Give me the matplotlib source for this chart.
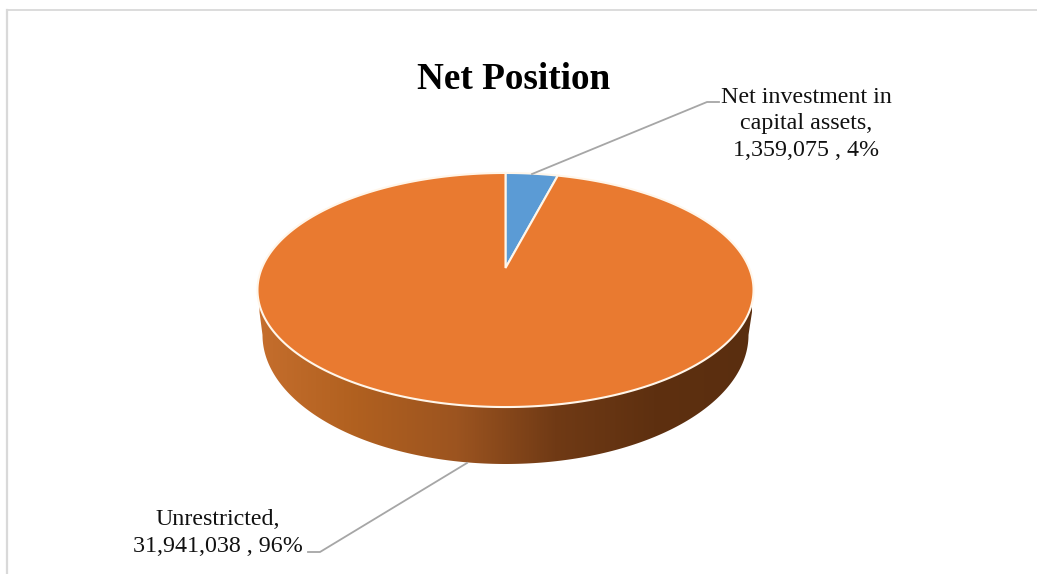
import numpy as np
import matplotlib
matplotlib.use("Agg")
import matplotlib.pyplot as plt
from matplotlib.colors import LinearSegmentedColormap
from matplotlib.patches import Polygon

title = "Net Position"
labels = ["Net investment in\ncapital assets,\n1,359,075 , 4%", "Unrestricted,\n31,941,038 , 96%"]
values = [1359075, 31941038]
colors = ["#5B9BD5", "#E97A30"]
side_colors = ["#C56E2D", "#B0601F", "#9C5420", "#703A15", "#5E3010", "#5A2E0F"]

plt.rcParams["font.family"] = ["Liberation Serif", "DejaVu Serif"]

fig = plt.figure(figsize=(10.37, 5.74), dpi=100)
ax = fig.add_axes([0, 0, 1, 1])

# pie gives the angles, the perspective is put on afterwards
wedges, _ = ax.pie(values, startangle=90, counterclock=False, colors=colors)
arcs = [(w.theta1, w.theta2) for w in wedges]
for w in wedges:
    w.remove()
ax.set_aspect("auto")
ax.set_xlim(0, 1037)
ax.set_ylim(574, 0)
ax.axis("off")

# tilted disc in pixels
cx, apex_y = 505.5, 268
tilt = 0.188
sx, sy = 243.6, 112.9


def project(theta):
    t = np.radians(theta)
    u, v = np.cos(t), np.sin(t)
    k = 1 + tilt * v
    return cx + sx * u / k, apex_y - sy * v / k


# side wall with gradient
ang = np.radians(np.linspace(180, 360, 200))
xb = cx + 243 * np.cos(ang)
yb = 335 - 129 * np.sin(ang)
wall_xy = np.column_stack([np.r_[xb, 752, 752, 259.5, 259.5], np.r_[yb, 312, 300, 300, 312]])
wall = Polygon(wall_xy, closed=True, facecolor="none", edgecolor="none", transform=ax.transData)
ax.add_patch(wall)
cmap = LinearSegmentedColormap.from_list("side", side_colors)
im = ax.imshow(np.linspace(0, 1, 256).reshape(1, -1), cmap=cmap, aspect="auto",
               extent=(258, 754, 470, 295), zorder=1)
im.set_clip_path(wall)
ax.set_xlim(0, 1037)
ax.set_ylim(574, 0)

# top of the pie
for (t1, t2), c in zip(arcs, colors):
    th = np.linspace(t1, t2, 400)
    x, y = project(th)
    xy = np.column_stack([np.r_[cx, x], np.r_[apex_y, y]])
    ax.add_patch(Polygon(xy, closed=True, facecolor=c, edgecolor="#FFF6EA", linewidth=1.5, zorder=2))

# leader lines
ax.plot([532, 707, 719], [174, 102, 102], color="#A6A6A6", lw=1.3, zorder=3)
ax.plot([467, 320, 308], [463, 552, 552], color="#A6A6A6", lw=1.3, zorder=3)

# chart frame, cropped on the right and bottom
ax.plot([7, 1037], [9.5, 9.5], color="#D9D9D9", lw=1.3, zorder=3)
ax.plot([7, 7], [9.5, 574], color="#D9D9D9", lw=1.6, zorder=3)

ax.text(513.5, 89, title, fontsize=26.8, fontweight="bold", ha="center", va="baseline", color="black")
ax.text(806.5, 124, labels[0], fontsize=17.3, ha="center", va="center", color="#111111", linespacing=1.33)
ax.text(218, 533, labels[1], fontsize=17.3, ha="center", va="center", color="#111111", linespacing=1.33)

fig.savefig("out.png", dpi=100)
